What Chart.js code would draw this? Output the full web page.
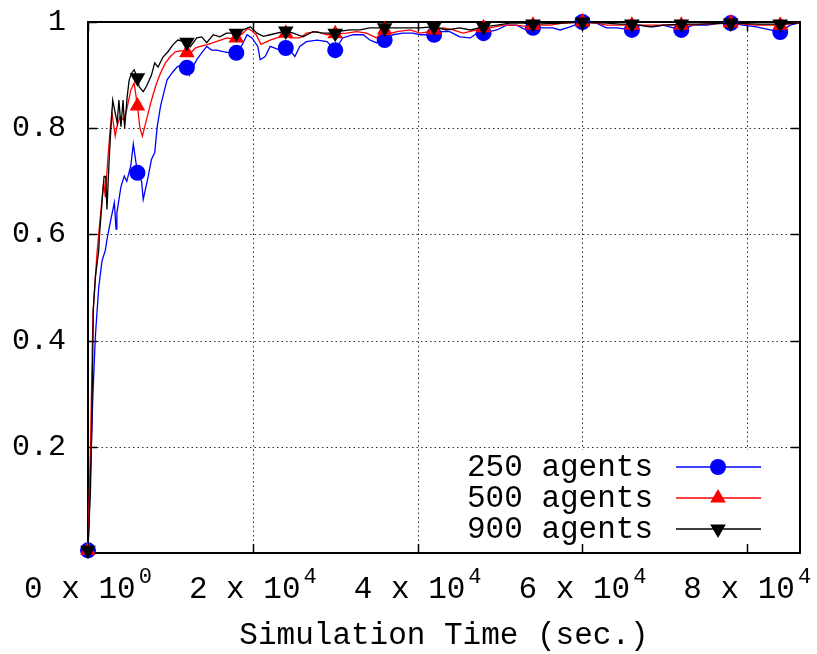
<!DOCTYPE html>
<html lang="en">
<head>
<meta charset="UTF-8">
<title>Simulation Time</title>
<style>
  html, body { margin: 0; padding: 0; background: #fff; }
  #wrap { width: 817px; height: 654px; }
</style>
</head>
<body>
<div id="wrap"><canvas id="chart" width="817" height="654"></canvas></div>
<script src="https://cdn.jsdelivr.net/npm/chart.js@4/dist/chart.umd.min.js"></script>
<script>
// axis ticks (x labels are mantissa x 10^exponent)
const xTickValues = [0, 20000, 40000, 60000, 80000];
const xTickMantissa = ['0', '2', '4', '6', '8'];
const xTickExponent = ['0', '4', '4', '4', '4'];
const yTickValues = [0.2, 0.4, 0.6, 0.8, 1];
const yTickLabels = ['0.2', '0.4', '0.6', '0.8', '1'];
const xTitle = 'Simulation Time (sec.)';
const seriesNames = ['250 agents', '500 agents', '900 agents'];

// marker points (every 6000 s)
const markerTimes = [0, 6000, 12000, 18000, 24000, 30000, 36000, 42000, 48000, 54000, 60000, 66000, 72000, 78000, 84000];
const markers250 = [0.005, 0.716, 0.914, 0.942, 0.951, 0.947, 0.966, 0.976, 0.979, 0.989, 1.0, 0.985, 0.985, 0.998, 0.981];
const markers500 = [0.005, 0.842, 0.942, 0.970, 0.979, 0.978, 0.985, 0.985, 0.989, 0.994, 1.0, 0.994, 0.994, 0.998, 0.994];
const markers900 = [0.005, 0.895, 0.962, 0.979, 0.983, 0.979, 0.989, 0.991, 0.991, 0.996, 1.0, 0.996, 0.996, 0.998, 0.996];

// line samples between the markers
const times250 = [300, 600, 900, 1300, 1700, 2100, 2300, 2800, 3200, 3400, 3500, 4000, 4400, 4700, 5200, 5500,
  6500, 6700, 7300, 7700, 8100, 8400, 8800, 9200, 9600, 10200, 10800, 11400,
  12300, 12700, 13200, 13800, 14400, 15000, 15600, 16400, 17200,
  18700, 19300, 19900, 20600, 20900, 21500, 22100, 23300,
  24500, 25100, 25700, 26500, 27800, 29000,
  30900, 32200, 33400, 34200, 35000,
  37000, 38200, 39400, 40300, 41500,
  42700, 43900, 45100, 46400, 47200,
  49600, 50800, 52000, 53200,
  55200, 56400, 57300, 58500,
  61700, 62900, 64200,
  67000, 68600, 69800,
  73400, 75100, 76700,
  79500, 81100,
  85200, 86200];
const values250 = [0.15, 0.30, 0.41, 0.50, 0.55, 0.57, 0.59, 0.63, 0.66, 0.61, 0.64, 0.69, 0.71, 0.70, 0.73, 0.77,
  0.70, 0.666, 0.709, 0.741, 0.754, 0.803, 0.841, 0.867, 0.891, 0.904, 0.915, 0.920,
  0.900, 0.915, 0.929, 0.942, 0.954, 0.947, 0.947, 0.944, 0.942,
  0.957, 0.976, 0.970, 0.954, 0.929, 0.935, 0.954, 0.947,
  0.947, 0.935, 0.954, 0.963, 0.966, 0.963,
  0.970, 0.976, 0.976, 0.966, 0.961,
  0.976, 0.979, 0.979, 0.976, 0.976,
  0.982, 0.982, 0.972, 0.970, 0.979,
  0.985, 0.994, 0.994, 0.985,
  0.989, 0.989, 0.985, 0.991,
  0.998, 0.989, 0.989,
  0.994, 0.991, 0.994,
  0.994, 0.994, 0.998,
  0.994, 0.991,
  0.994, 0.998];

const times500 = [300, 600, 900, 1100, 1300, 1900, 2100, 2400, 2700, 2900, 3300, 3500, 3900, 4300, 4700, 5200, 5600,
  6300, 6600, 7100, 7600, 8200, 8800, 9400, 10000, 10600, 11300,
  12500, 13000, 13600, 14400, 15200, 16100, 16900, 17500,
  18800, 19400, 19900, 20400, 21000, 22100, 23300,
  24500, 25700, 26500, 27800, 29000,
  31400, 32600, 33800, 35000,
  36200, 37500, 39100, 40300, 41500,
  43100, 44300, 45500, 47200,
  48800, 50400, 52000, 53600,
  56100, 57600,
  61700, 62900,
  68200, 70600,
  73100, 74600,
  81100,
  86200];
const values500 = [0.20, 0.45, 0.52, 0.566, 0.60, 0.70, 0.67, 0.74, 0.80, 0.829, 0.785, 0.803, 0.822, 0.816, 0.835, 0.872, 0.885,
  0.80, 0.785, 0.816, 0.847, 0.879, 0.904, 0.923, 0.935, 0.944, 0.946,
  0.942, 0.951, 0.954, 0.957, 0.961, 0.966, 0.970, 0.968,
  0.979, 0.988, 0.983, 0.976, 0.958, 0.966, 0.972,
  0.970, 0.970, 0.979, 0.982, 0.976,
  0.979, 0.982, 0.979, 0.970,
  0.976, 0.982, 0.985, 0.979, 0.982,
  0.989, 0.985, 0.979, 0.985,
  0.989, 0.994, 0.994, 0.991,
  0.994, 0.998,
  0.998, 0.994,
  0.994, 0.994,
  0.994, 0.996,
  0.994,
  0.999];

const times900 = [300, 450, 650, 900, 1300, 1400, 1700, 1950, 2150, 2300, 2550, 2750, 3000, 3300, 3550, 3750, 4000, 4250, 4450, 4600, 4750, 5000, 5300, 5600,
  6200, 6700, 7100, 7700, 8100, 8500, 9100, 9700, 10300, 10900,
  12400, 13200, 13800, 14400, 15200, 16000, 16800,
  18800, 19700, 20500, 21300, 22100, 23700,
  24900, 26100, 27300, 28500,
  30200, 31800, 33000, 34200,
  37500, 39100, 40300,
  43500, 45100, 46400,
  49600, 51200, 52800,
  57600,
  62900, 64600,
  68200, 69800,
  74300,
  81500,
  86200];
const values900 = [0.12, 0.23, 0.46, 0.52, 0.57, 0.60, 0.66, 0.709, 0.709, 0.647, 0.735, 0.792, 0.853, 0.829, 0.810, 0.853, 0.803, 0.853, 0.80, 0.829, 0.859, 0.891, 0.904, 0.91,
  0.878, 0.869, 0.879, 0.900, 0.923, 0.915, 0.934, 0.944, 0.957, 0.966,
  0.953, 0.970, 0.972, 0.961, 0.976, 0.972, 0.979,
  0.985, 0.991, 0.979, 0.973, 0.976, 0.982,
  0.979, 0.972, 0.982, 0.979,
  0.982, 0.985, 0.985, 0.989,
  0.989, 0.989, 0.989,
  0.985, 0.989, 0.985,
  0.994, 0.998, 0.998,
  0.998,
  0.998, 0.996,
  0.991, 0.994,
  0.996,
  0.996,
  0.998];

const FONT = "'Liberation Mono', 'DejaVu Sans Mono', monospace";
const colors = ['#0000ff', '#ff0000', '#000000'];
const markerKinds = ['circle', 'up', 'down'];

function merge(times, values, mTimes, mValues) {
  const pts = times.map((t, i) => ({ x: t, y: values[i] }))
    .concat(mTimes.map((t, i) => ({ x: t, y: mValues[i] })));
  pts.sort((a, b) => a.x - b.x);
  return pts;
}

function markerDataset(mValues, color, style, rotation, radius, order) {
  return {
    data: markerTimes.map((t, i) => ({ x: t, y: mValues[i] })),
    showLine: false,
    pointStyle: style,
    rotation: rotation,
    pointRadius: radius,
    pointBackgroundColor: color,
    pointBorderColor: color,
    pointBorderWidth: 0,
    clip: false,
    order: order
  };
}

function lineDataset(pts, color, order) {
  return {
    data: pts,
    borderColor: color,
    borderWidth: 1.3,
    pointRadius: 0,
    tension: 0,
    fill: false,
    order: order
  };
}

function drawMarker(ctx, kind, x, y, color) {
  ctx.fillStyle = color;
  ctx.beginPath();
  if (kind === 'circle') {
    ctx.arc(x, y, 8, 0, Math.PI * 2);
  } else {
    const r = 9, s = kind === 'up' ? -1 : 1;
    ctx.moveTo(x, y + s * r);
    ctx.lineTo(x + r * 0.866, y - s * r / 2);
    ctx.lineTo(x - r * 0.866, y - s * r / 2);
    ctx.closePath();
  }
  ctx.fill();
}

// gnuplot-like frame: dotted grid, opaque key, border with inward tics
const frame = {
  id: 'frame',
  beforeDatasetsDraw(chart) {
    const { ctx, chartArea: a, scales: { x, y } } = chart;
    ctx.save();
    ctx.strokeStyle = '#333';
    ctx.lineWidth = 1;
    ctx.setLineDash([1.5, 3]);
    ctx.beginPath();
    xTickValues.forEach(v => {
      if (v === 0) return;
      const px = Math.round(x.getPixelForValue(v)) + 0.5;
      ctx.moveTo(px, a.top); ctx.lineTo(px, a.bottom);
    });
    yTickValues.forEach(v => {
      if (v === 1) return;
      const py = Math.round(y.getPixelForValue(v)) + 0.5;
      ctx.moveTo(a.left, py); ctx.lineTo(a.right, py);
    });
    ctx.stroke();
    ctx.setLineDash([]);

    // key
    const keyRight = a.right - 19, keyBottom = a.bottom - 3;
    ctx.fillStyle = '#fff';
    ctx.fillRect(keyRight - 318, keyBottom - 100, 318, 100);
    ctx.font = '31px ' + FONT;
    ctx.textAlign = 'right';
    ctx.textBaseline = 'middle';
    seriesNames.forEach((name, i) => {
      const ry = a.bottom - 86 + i * 31;
      ctx.fillStyle = '#000';
      ctx.fillText(name, a.right - 147, ry + 1);
      ctx.strokeStyle = colors[i];
      ctx.lineWidth = 1.5;
      ctx.beginPath();
      ctx.moveTo(a.right - 124, ry); ctx.lineTo(a.right - 39, ry);
      ctx.stroke();
      drawMarker(ctx, markerKinds[i], a.right - 82, ry, colors[i]);
    });

    // border and tics
    ctx.strokeStyle = '#000';
    ctx.lineWidth = 2;
    ctx.strokeRect(a.left, a.top, a.right - a.left, a.bottom - a.top);
    ctx.lineWidth = 1.5;
    ctx.beginPath();
    xTickValues.forEach(v => {
      const px = Math.round(x.getPixelForValue(v)) + 0.5;
      ctx.moveTo(px, a.bottom); ctx.lineTo(px, a.bottom - 9);
      ctx.moveTo(px, a.top); ctx.lineTo(px, a.top + 9);
    });
    yTickValues.forEach(v => {
      const py = Math.round(y.getPixelForValue(v)) + 0.5;
      ctx.moveTo(a.left, py); ctx.lineTo(a.left + 9, py);
      ctx.moveTo(a.right, py); ctx.lineTo(a.right - 9, py);
    });
    ctx.stroke();

    // x tic labels with raised exponent, centred on each tic
    ctx.fillStyle = '#000';
    ctx.textAlign = 'left';
    ctx.textBaseline = 'alphabetic';
    xTickValues.forEach((v, i) => {
      const main = xTickMantissa[i] + ' x 10';
      const sup = xTickExponent[i];
      ctx.font = '31px ' + FONT;
      const wMain = ctx.measureText(main).width;
      ctx.font = '22px ' + FONT;
      const wSup = ctx.measureText(sup).width;
      const left = x.getPixelForValue(v) - (wMain + 3 + wSup) / 2;
      ctx.font = '31px ' + FONT;
      ctx.fillText(main, left, a.bottom + 45);
      ctx.font = '22px ' + FONT;
      ctx.fillText(sup, left + wMain + 3, a.bottom + 30);
    });
    ctx.restore();
  }
};

const datasets = [
  markerDataset(markers900, colors[2], 'triangle', 180, 9, 0),
  lineDataset(merge(times900, values900, markerTimes, markers900), colors[2], 1),
  markerDataset(markers500, colors[1], 'triangle', 0, 9, 2),
  lineDataset(merge(times500, values500, markerTimes, markers500), colors[1], 3),
  markerDataset(markers250, colors[0], 'circle', 0, 8, 4),
  lineDataset(merge(times250, values250, markerTimes, markers250), colors[0], 5)
];

new Chart(document.getElementById('chart'), {
  type: 'line',
  data: { datasets: datasets },
  options: {
    responsive: false,
    animation: false,
    events: [],
    layout: { padding: { left: 0, right: 17, top: 22, bottom: 0 } },
    plugins: { legend: { display: false }, tooltip: { enabled: false } },
    scales: {
      x: {
        type: 'linear',
        min: 0,
        max: 86400,
        grid: { display: false, drawTicks: false },
        border: { display: false },
        afterBuildTicks: s => { s.ticks = xTickValues.map(v => ({ value: v })); },
        afterFit: s => { s.height = 101; s.paddingLeft = 0; s.paddingRight = 0; },
        ticks: { display: false },
        title: {
          display: true,
          text: xTitle,
          font: { family: FONT, size: 31 },
          color: '#000',
          padding: { top: 0, bottom: 0 }
        }
      },
      y: {
        min: 0,
        max: 1,
        grid: { display: false, drawTicks: false },
        border: { display: false },
        afterBuildTicks: s => { s.ticks = yTickValues.map(v => ({ value: v })); },
        afterFit: s => { s.width = 88; s.paddingTop = 0; s.paddingBottom = 0; },
        ticks: {
          callback: (v, i) => yTickLabels[i],
          font: { family: FONT, size: 30 },
          color: '#000',
          padding: 22
        }
      }
    }
  },
  plugins: [frame]
});
</script>
</body>
</html>
